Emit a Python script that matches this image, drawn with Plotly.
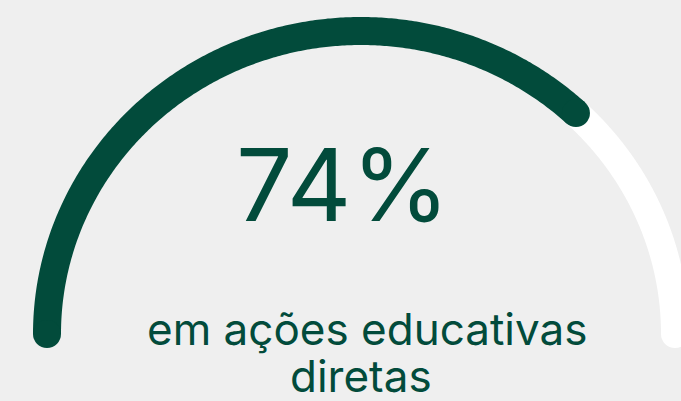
import numpy as np
import plotly.graph_objects as go

# data
value = 74          # percent
total = 100
headline = "74%"
caption_lines = ["em ações educativas", "diretas"]

DARK = "#024b3b"
TRACK = "#ffffff"
BG = "#efefef"

W, H = 681, 401

def arc(frac0, frac1, n=300):
    t = np.linspace(np.pi * (1 - frac0), np.pi * (1 - frac1), n)
    return np.cos(t), np.sin(t)

fig = go.Figure()

# track (remainder)
tx, ty = arc(value / total, 1.0)
fig.add_trace(go.Scatter(x=tx, y=ty, mode="lines",
                         line=dict(color=TRACK, width=28, simplify=False),
                         hoverinfo="skip", showlegend=False))
fig.add_trace(go.Scatter(x=[tx[-1]], y=[ty[-1]], mode="markers",
                         marker=dict(color=TRACK, size=28, line=dict(width=0)),
                         hoverinfo="skip", showlegend=False))
# value arc
vx, vy = arc(0.0, value / total)
fig.add_trace(go.Scatter(x=vx, y=vy, mode="lines",
                         line=dict(color=DARK, width=28, simplify=False),
                         hoverinfo="skip", showlegend=False))
fig.add_trace(go.Scatter(x=[vx[0], vx[-1]], y=[vy[0], vy[-1]], mode="markers",
                         marker=dict(color=DARK, size=28, line=dict(width=0)),
                         hoverinfo="skip", showlegend=False))

cx, cy, rx, ry = 361, 334, 314, 303

fig.add_annotation(x=343 / W, y=1 - 184 / H, xref="paper", yref="paper",
                   text=headline, showarrow=False, xanchor="center", yanchor="middle",
                   font=dict(family="Inter", size=100, color=DARK))
fig.add_annotation(x=367 / W, y=1 - 329 / H, xref="paper", yref="paper",
                   text=caption_lines[0], showarrow=False, xanchor="center", yanchor="middle",
                   font=dict(family="Inter", size=44, color=DARK))
fig.add_annotation(x=361 / W, y=1 - 376 / H, xref="paper", yref="paper",
                   text=caption_lines[1], showarrow=False, xanchor="center", yanchor="middle",
                   font=dict(family="Inter", size=44, color=DARK))

fig.update_xaxes(range=[(0 - cx) / rx, (W - cx) / rx], visible=False, fixedrange=True)
fig.update_yaxes(range=[-(H - cy) / ry, cy / ry], visible=False, fixedrange=True)
fig.update_layout(width=W, height=H, margin=dict(l=0, r=0, t=0, b=0),
                  paper_bgcolor=BG, plot_bgcolor=BG, showlegend=False)

fig.write_html("out.html", config={"displayModeBar": False},
               post_script="document.body.style.margin='0';document.body.style.background='%s';" % BG)
